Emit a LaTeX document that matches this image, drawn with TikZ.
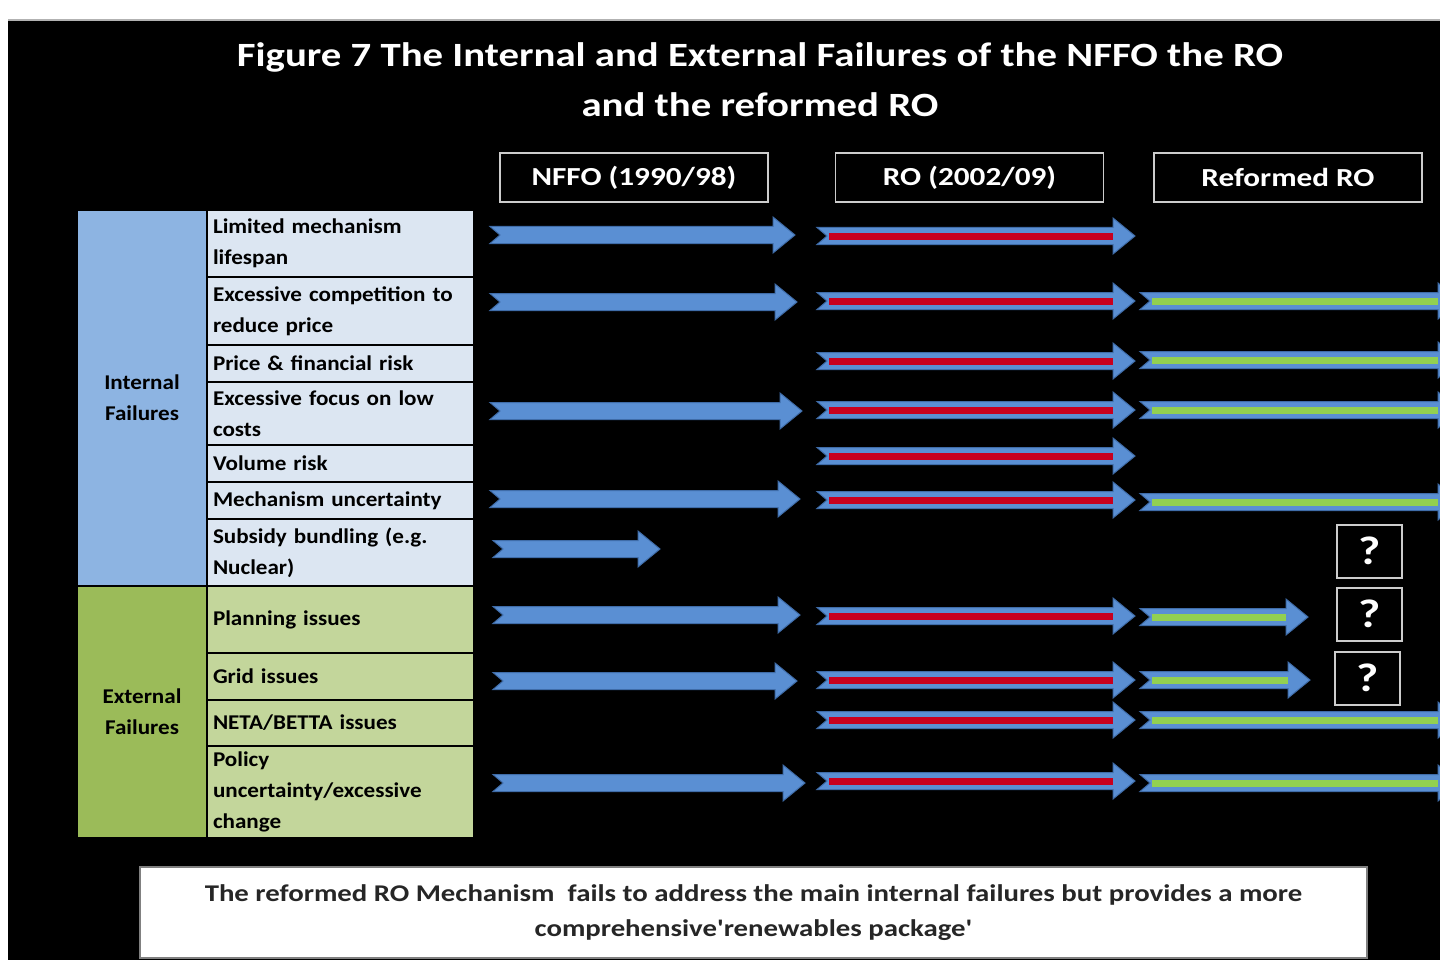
\documentclass[tikz,border=0pt]{standalone}
\usepackage{fontspec}
\setmainfont{Carlito}
\newfontfamily\widefont{Carlito}[FakeStretch=1.2]
\newfontfamily\cellfont{Carlito}[FakeStretch=1.1]
\usetikzlibrary{calc}

\definecolor{catblue}{HTML}{8DB4E2}
\definecolor{itemblue}{HTML}{DCE6F2}
\definecolor{catgreen}{HTML}{9BBB59}
\definecolor{itemgreen}{HTML}{C3D69B}
\definecolor{arrowfill}{HTML}{5A8FD3}
\definecolor{arrowedge}{HTML}{3F6CA8}
\definecolor{bandred}{HTML}{C8001E}
\definecolor{bandgreen}{HTML}{92D050}

\begin{document}
\begin{tikzpicture}[
     x=1pt, y=-1pt,
     cat/.style={draw=black,line width=2pt,minimum width=130pt,align=center,
       font=\cellfont\bfseries\fontsize{21}{31}\selectfont},
     item/.style={draw=black,line width=2pt,text width=255pt,inner xsep=6pt,align=left,
       font=\cellfont\bfseries\fontsize{21}{31}\selectfont},
     head/.style={draw=white!80!black,line width=1.5pt,minimum width=268pt,minimum height=49pt,
       text=white,font=\widefont\bfseries\fontsize{26}{30}\selectfont},
     qbox/.style={draw=white!80!black,line width=2pt,minimum width=65pt,minimum height=53pt,
       text=white,font=\widefont\bfseries\fontsize{40}{40}\selectfont},
     farrow/.style={fill=arrowfill,draw=arrowedge,line width=1pt,
       to path={($(\tikztostart)+(10,0)$) -- ($(\tikztostart)+(0,-8.5)$)
         -- ($(\tikztotarget)+(-22,-8.5)$) -- ($(\tikztotarget)+(-22,-18)$)
         -- (\tikztotarget) -- ($(\tikztotarget)+(-22,18)$)
         -- ($(\tikztotarget)+(-22,8.5)$) -- ($(\tikztostart)+(0,8.5)$) -- cycle}},
     rband/.style={draw=bandred,line width=7pt},
     gband/.style={draw=bandgreen,line width=7pt}
   ]
   \useasboundingbox (0,0) rectangle (1440,960);
   \clip (0,0) rectangle (1440,960);
   \fill[white] (0,0) rectangle (1440,960);
   \fill[black] (8,20) rectangle (1440,960);
   \draw[gray!60,line width=2pt] (8,20) -- (1440,20);
   % Title.
   \node[text=white,align=center,font=\widefont\bfseries\fontsize{34}{50}\selectfont] (title) at (760,80)
     {Figure 7 The Internal and External Failures of the NFFO the RO\\and the reformed RO};
   % Column heads.
   \node[head] (hnffo) at (634,177.5) {NFFO (1990/98)};
   \node[head] (hro) at (969.5,177.5) {RO (2002/09)};
   \node[head] (hreform) at (1288,177.5) {Reformed RO};
   % Failure table.
   \node[cat,fill=catblue,minimum height=376pt] (cint) at (142,398) {Internal\\Failures};
   \node[cat,fill=catgreen,minimum height=252pt] (cext) at (142,712) {External\\Failures};
   \node[item,fill=itemblue,minimum height=67pt] (r1) at (340.5,243.5) {Limited mechanism\\lifespan};
   \node[item,fill=itemblue,minimum height=68pt] (r2) at (340.5,311) {Excessive competition to\\reduce price};
   \node[item,fill=itemblue,minimum height=37pt] (r3) at (340.5,363.5) {Price \& financial risk};
   \node[item,fill=itemblue,minimum height=63pt] (r4) at (340.5,413.5) {Excessive focus on low\\costs};
   \node[item,fill=itemblue,minimum height=37pt] (r5) at (340.5,463.5) {Volume risk};
   \node[item,fill=itemblue,minimum height=37pt] (r6) at (340.5,500.5) {Mechanism uncertainty};
   \node[item,fill=itemblue,minimum height=67pt] (r7) at (340.5,552.5) {Subsidy bundling (e.g.\\Nuclear)};
   \node[item,fill=itemgreen,minimum height=67pt] (r8) at (340.5,619.5) {Planning issues};
   \node[item,fill=itemgreen,minimum height=47pt] (r9) at (340.5,676.5) {Grid issues};
   \node[item,fill=itemgreen,minimum height=46pt] (r10) at (340.5,723) {NETA/BETTA issues};
   \node[item,fill=itemgreen,minimum height=92pt] (r11) at (340.5,792) {Policy\\uncertainty/excessive\\change};
   % NFFO arrows.
   \draw[farrow] (490,235) to (795,235);
   \draw[farrow] (490,302) to (797,302);
   \draw[farrow] (490,411) to (802,411);
   \draw[farrow] (490,499) to (800,499);
   \draw[farrow] (493,549) to (660,549);
   \draw[farrow] (493,615) to (800,615);
   \draw[farrow] (493,681) to (797,681);
   \draw[farrow] (493,783) to (805,783);
   % RO arrows.
   \draw[farrow] (817,236) to (1135,236); \draw[rband] (829,236) -- (1113,236);
   \draw[farrow] (817,301) to (1135,301); \draw[rband] (829,301) -- (1113,301);
   \draw[farrow] (817,361) to (1135,361); \draw[rband] (829,361) -- (1113,361);
   \draw[farrow] (817,410) to (1135,410); \draw[rband] (829,410) -- (1113,410);
   \draw[farrow] (817,456) to (1135,456); \draw[rband] (829,456) -- (1113,456);
   \draw[farrow] (817,500) to (1135,500); \draw[rband] (829,500) -- (1113,500);
   \draw[farrow] (817,616) to (1135,616); \draw[rband] (829,616) -- (1113,616);
   \draw[farrow] (817,680) to (1135,680); \draw[rband] (829,680) -- (1113,680);
   \draw[farrow] (817,720) to (1135,720); \draw[rband] (829,720) -- (1113,720);
   \draw[farrow] (817,781) to (1135,781); \draw[rband] (829,781) -- (1113,781);
   % Reformed RO arrows.
   \draw[farrow] (1140,301) to (1460,301); \draw[gband] (1152,301) -- (1438,301);
   \draw[farrow] (1140,360) to (1460,360); \draw[gband] (1152,360) -- (1438,360);
   \draw[farrow] (1140,410) to (1460,410); \draw[gband] (1152,410) -- (1438,410);
   \draw[farrow] (1140,502) to (1460,502); \draw[gband] (1152,502) -- (1438,502);
   \draw[farrow] (1140,617) to (1308,617); \draw[gband] (1152,617) -- (1286,617);
   \draw[farrow] (1140,680) to (1310,680); \draw[gband] (1152,680) -- (1288,680);
   \draw[farrow] (1140,720) to (1460,720); \draw[gband] (1152,720) -- (1438,720);
   \draw[farrow] (1140,783) to (1460,783); \draw[gband] (1152,783) -- (1438,783);
   % Open questions.
   \node[qbox] (q1) at (1369.5,551) {?};
   \node[qbox] (q2) at (1369.5,614) {?};
   \node[qbox] (q3) at (1367.5,678) {?};
   % Summary.
   \node[draw=gray,fill=white,line width=2pt,minimum width=1227pt,minimum height=91pt,
     align=center,text=black!85,font=\widefont\bfseries\fontsize{24}{35}\selectfont] (note) at (753.5,912.5)
     {The reformed RO Mechanism\ \ fails to address the main internal failures but provides a more\\comprehensive'renewables package'};
 \end{tikzpicture}
\end{document}
